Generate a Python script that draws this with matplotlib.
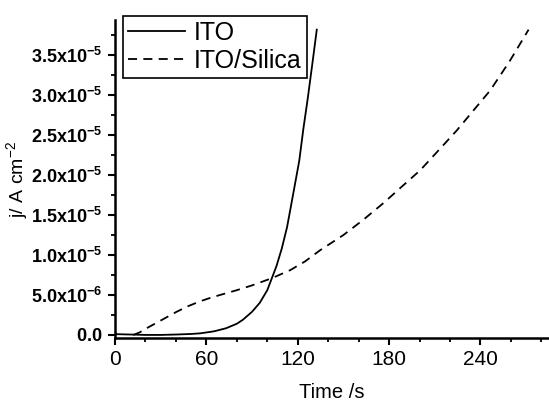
import numpy as np
import matplotlib
matplotlib.use('Agg')
from matplotlib import pyplot as plt
from matplotlib.ticker import FixedLocator, FixedFormatter, MultipleLocator

plt.rcParams['font.family'] = ['Liberation Sans', 'DejaVu Sans']
plt.rcParams['mathtext.fontset'] = 'custom'
plt.rcParams['mathtext.rm'] = 'Liberation Sans'
plt.rcParams['mathtext.bf'] = 'Liberation Sans:bold'
plt.rcParams['mathtext.it'] = 'Liberation Sans:italic'

# ITO (solid), j in units of 1e-6 A cm^-2
t_ito = [0, 10, 20, 30, 40, 50, 56, 65, 73, 80, 84, 90, 95, 100, 103, 106,
         109.5, 113, 116, 118.7, 121, 123.7, 126.5, 129.5, 132.5]
j_ito = [0.1, 0.05, 0.0, 0.0, 0.05, 0.12, 0.2, 0.45, 0.84, 1.4, 1.9, 2.9, 4.0,
         5.6, 7.1, 8.6, 10.8, 13.5, 16.6, 19.4, 21.8, 25.8, 29.5, 33.8, 38.2]

# ITO/Silica (dashed)
t_sil = [12, 16, 20.8, 30, 40.5, 48, 55.8, 62, 69, 80, 90, 103, 115, 124.8,
         134.7, 150, 163, 176.3, 188, 200.4, 212, 224.5, 235, 246.4, 259, 271.6]
j_sil = [0.0, 0.3, 0.84, 1.8, 2.9, 3.6, 4.2, 4.6, 5.0, 5.6, 6.2, 7.1, 8.1, 9.2,
         10.6, 12.5, 14.4, 16.5, 18.5, 20.6, 23.0, 25.6, 28.0, 30.6, 34.2, 38.2]

x_ticks = [0, 60, 120, 180, 240]
y_ticks = [0, 5e-6, 1e-5, 1.5e-5, 2e-5, 2.5e-5, 3e-5, 3.5e-5]
y_labels = [r'$\mathbf{0.0}$', r'$\mathbf{5.0x10^{-6}}$', r'$\mathbf{1.0x10^{-5}}$',
            r'$\mathbf{1.5x10^{-5}}$', r'$\mathbf{2.0x10^{-5}}$', r'$\mathbf{2.5x10^{-5}}$',
            r'$\mathbf{3.0x10^{-5}}$', r'$\mathbf{3.5x10^{-5}}$']

fig = plt.figure(figsize=(5.49, 4.01), dpi=100)
ax = fig.add_axes([0.2095, 0.156, 0.7905, 0.794])

ax.plot(t_ito, np.array(j_ito) * 1e-6, 'k-', lw=1.3, label='ITO')
ax.plot(t_sil, np.array(j_sil) * 1e-6, 'k--', lw=1.3, dashes=(5, 3.5), label='ITO/Silica')

ax.set_xlim(0, 285)
ax.set_ylim(-0.44e-6, 3.94e-5)

ax.spines['top'].set_visible(False)
ax.spines['right'].set_visible(False)
ax.spines['left'].set_linewidth(1.8)
ax.spines['bottom'].set_linewidth(1.8)

ax.xaxis.set_major_locator(FixedLocator(x_ticks))
ax.xaxis.set_minor_locator(MultipleLocator(20))
ax.yaxis.set_major_locator(FixedLocator(y_ticks))
ax.yaxis.set_major_formatter(FixedFormatter(y_labels))
ax.yaxis.set_minor_locator(MultipleLocator(2.5e-6))
ax.tick_params(which='major', direction='out', length=5, width=1.5, pad=3)
ax.tick_params(axis='y', which='major', labelsize=13, pad=4)
ax.tick_params(axis='x', which='major', labelsize=15)
ax.tick_params(which='minor', direction='out', length=3, width=1.3)

ax.set_xlabel('Time /s', fontsize=14.5)
ax.set_ylabel(r'j/ A cm$^{-2}$', fontsize=14)
ax.xaxis.set_label_coords(0.5, -0.14)
ax.yaxis.set_label_coords(-0.197, 0.5)

leg = ax.legend(loc='upper left', bbox_to_anchor=(0.018, 1.013), borderaxespad=0,
                fontsize=18, frameon=True, fancybox=False, edgecolor='black',
                framealpha=1, handlelength=2.3, handletextpad=0.35,
                borderpad=0.2, labelspacing=0.15)
leg.get_frame().set_linewidth(1.2)

plt.savefig('out.png', dpi=100)
